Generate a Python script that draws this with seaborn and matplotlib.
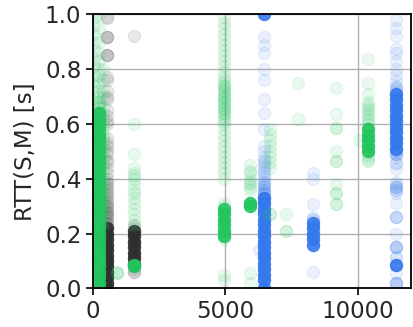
import matplotlib
matplotlib.use("Agg")
import matplotlib.pyplot as plt
import seaborn as sns
import pandas as pd

# ---- data: x position -> list of RTT values (s) ----
# "faint" = individual sparse samples, "dense" = heavily overlapping samples
green_faint = {
    60: [0.99, 0.96, 0.93, 0.90, 0.87, 0.84, 0.81, 0.78, 0.76, 0.74, 0.72, 0.70, 0.68],
    230: [0.66, 0.66, 0.67, 0.68, 0.68, 0.70, 0.72, 0.75, 0.78, 0.80, 0.83, 0.86, 0.90, 0.95, 1.0],
    400: [0.80, 0.76, 0.72, 0.70, 0.66, 0.62, 0.58, 0.55, 0.52, 0.50, 0.47, 0.44, 0.40, 0.37,
          0.34, 0.31, 0.28, 0.25, 0.22, 0.64, 0.56, 0.48, 0.42, 0.35, 0.30, 0.60, 0.53, 0.45,
          0.38, 0.32, 0.27],
}
green_dense = {
    230: [0.00, 0.02, 0.04, 0.06, 0.08, 0.10, 0.12, 0.14, 0.16, 0.18, 0.20, 0.22, 0.24, 0.26,
          0.28, 0.30, 0.32, 0.34, 0.36, 0.38, 0.40, 0.42, 0.44, 0.46, 0.48, 0.50, 0.52, 0.54,
          0.56, 0.58, 0.60, 0.62, 0.64],
}
black_faint = {
    540: [0.99, 0.988, 0.917, 0.917, 0.917, 0.852, 0.852, 0.852, 0.77, 0.76, 0.72, 0.70, 0.69,
          0.65, 0.63, 0.61, 0.60, 0.52, 0.50, 0.47, 0.40, 0.38, 0.36, 0.34, 0.32, 0.30, 0.28,
          0.26, 0.24, 0.24, 0.23, 0.55, 0.53, 0.49, 0.46, 0.44, 0.42, 0.39, 0.37, 0.35, 0.33,
          0.31, 0.29, 0.27, 0.25, 0.30, 0.28, 0.26],
    1578: [0.92, 0.23, 0.22, 0.07, 0.06, 0.06],
}
black_dense = {
    540: [0.00, 0.02, 0.04, 0.06, 0.08, 0.10, 0.12, 0.14, 0.16, 0.18, 0.20, 0.22],
    1578: [0.09, 0.11, 0.13, 0.15, 0.17, 0.19, 0.21],
}
blue_faint = {
    6460: [0.918, 0.89, 0.86, 0.80, 0.76, 0.69, 0.64, 0.58, 0.52, 0.50, 0.48, 0.46, 0.44, 0.42,
           0.40, 0.38, 0.38, 0.37, 0.36, 0.36, 0.35, 0.35, 0.34, 0.33, 0.47, 0.45, 0.43, 0.41,
           0.39, 0.37, 0.35],
    6270: [0.14],
    8330: [0.423, 0.40, 0.307, 0.26, 0.255, 0.25, 0.06],
    11440: [0.98, 0.95, 0.92, 0.872, 0.86, 0.83, 0.80, 0.78, 0.756, 0.74, 0.73, 0.73, 0.72,
            0.50, 0.49, 0.49, 0.49, 0.48, 0.457, 0.457, 0.437, 0.39, 0.38, 0.37, 0.37, 0.37,
            0.36, 0.36, 0.35, 0.31, 0.26, 0.26, 0.26, 0.20, 0.152, 0.152, 0.152, 0.15, 0.115,
            0.115, 0.085, 0.056, 0.02, 0.02, 0.02, 0.02],
}
blue_dense = {
    6460: [1.0, 0.00, 0.03, 0.05, 0.07, 0.09, 0.11, 0.13, 0.15, 0.17, 0.19, 0.21, 0.23, 0.25,
           0.27, 0.29, 0.31, 0.33],
    8330: [0.16, 0.18, 0.20, 0.22, 0.24],
    11440: [0.51, 0.53, 0.55, 0.57, 0.59, 0.61, 0.63, 0.65, 0.67, 0.69, 0.71, 0.085],
}
green2_faint = {
    913: [0.058, 0.055, 0.06],
    1578: [0.60, 0.49, 0.44, 0.42, 0.41, 0.40, 0.38, 0.36, 0.35, 0.33, 0.31, 0.29, 0.27, 0.25, 0.23],
    4950: [0.99, 0.97, 0.95, 0.93, 0.91, 0.89, 0.87, 0.85, 0.83, 0.81, 0.79, 0.77, 0.76, 0.75,
           0.74, 0.73, 0.72, 0.71, 0.70, 0.69, 0.68, 0.67, 0.66, 0.65, 0.64, 0.63, 0.62, 0.61,
           0.60, 0.58, 0.56, 0.54, 0.52, 0.50, 0.48, 0.46, 0.44, 0.42, 0.40, 0.74, 0.72, 0.70,
           0.68, 0.66, 0.64, 0.31, 0.30, 0.18, 0.05, 0.03],
    5930: [0.45, 0.43, 0.42, 0.40, 0.39, 0.38, 0.37, 0.36, 0.055, 0.02],
    6710: [0.58, 0.56, 0.54, 0.52, 0.50, 0.48, 0.46, 0.44, 0.27, 0.27],
    7300: [0.27, 0.21, 0.21],
    7740: [0.75, 0.62],
    9190: [0.73, 0.635, 0.585, 0.585, 0.50, 0.466, 0.466, 0.38, 0.35, 0.35, 0.307, 0.307],
    10060: [0.54],
    10380: [0.836, 0.751, 0.71, 0.68, 0.67, 0.66, 0.65, 0.64, 0.63, 0.62, 0.61, 0.60, 0.49,
            0.48, 0.47, 0.465],
}
green2_dense = {
    1578: [0.08, 0.085],
    4950: [0.19, 0.21, 0.23, 0.25, 0.27, 0.29],
    5930: [0.30, 0.31],
    10380: [0.50, 0.52, 0.54, 0.56, 0.58],
}

x_ticks = [0, 5000, 10000]
y_ticks = [0.0, 0.2, 0.4, 0.6, 0.8, 1.0]
y_label = "RTT(S,M) [s]"

GREEN = "#22c55e"
BLACK = "#2e2e2e"
BLUE = "#3478ed"


def to_df(d):
    rows = [(x, y) for x, ys in d.items() for y in ys]
    return pd.DataFrame(rows, columns=["x", "y"])


sns.set_style("ticks")
plt.rcParams["font.family"] = ["DejaVu Sans"]

fig, ax = plt.subplots(figsize=(4.13, 3.27), dpi=100)
fig.subplots_adjust(left=0.224, right=0.9944, top=0.956, bottom=0.118)

ax.grid(True, color="#b0b0b0", linewidth=1.0, zorder=0)
ax.set_axisbelow(True)

layers = [
    (black_dense, BLACK, 0.9),
    (black_faint, BLACK, 0.1),
    (blue_dense, BLUE, 0.9),
    (blue_faint, BLUE, 0.1),
    (green_dense, GREEN, 0.9),
    (green_faint, GREEN, 0.1),
    (green2_dense, GREEN, 0.9),
    (green2_faint, GREEN, 0.1),
]
for d, col, a in layers:
    sns.scatterplot(data=to_df(d), x="x", y="y", color=col, alpha=a, s=78,
                    edgecolor=col, linewidth=0.8, ax=ax, legend=False, zorder=3)

ax.set_xlim(0, 12000)
ax.set_ylim(0, 1.0)
ax.set_xticks(x_ticks)
ax.set_xticklabels([str(t) for t in x_ticks])
ax.set_yticks(y_ticks)
ax.set_yticklabels([f"{t:.1f}" for t in y_ticks])
ax.set_xlabel("")
ax.set_ylabel(y_label, fontsize=16.5, labelpad=6)
ax.tick_params(labelsize=16.5, length=5, width=1.2, color="black", pad=3)
for sp in ax.spines.values():
    sp.set_color("black")
    sp.set_linewidth(1.3)
    sp.set_zorder(5)

fig.savefig("out.png", dpi=100)
